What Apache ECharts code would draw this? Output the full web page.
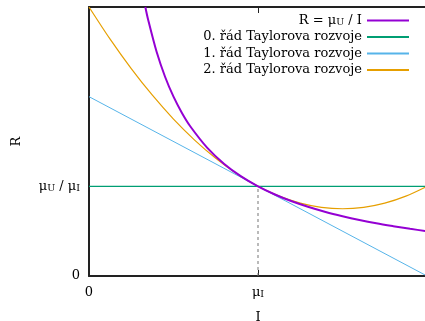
<!DOCTYPE html>
<html>
<head>
<meta charset="utf-8">
<script src="https://cdn.jsdelivr.net/npm/echarts@6/dist/echarts.min.js"></script>
<style>
  body { margin: 0; background: #fff; }
  #chart { width: 425px; height: 321px; }
</style>
</head>
<body>
<div id="chart"></div>
<script>
// R = muU / I (muU = muI = 1 in plot units)
const curveI = [0.3333, 0.35, 0.4, 0.45, 0.5, 0.55, 0.6, 0.7, 0.8, 0.9, 1.0, 1.1, 1.2, 1.3, 1.4, 1.5, 1.6, 1.7, 1.8, 1.9, 2.0];
const curveR = [3.0, 2.857, 2.5, 2.222, 2.0, 1.818, 1.667, 1.429, 1.25, 1.111, 1.0, 0.909, 0.833, 0.769, 0.714, 0.667, 0.625, 0.588, 0.556, 0.526, 0.5];
// 0. rad
const order0I = [0, 2];
const order0R = [1, 1];
// 1. rad
const order1I = [0, 2];
const order1R = [2, 0];
// 2. rad
const order2I = [0, 0.125, 0.25, 0.375, 0.5, 0.625, 0.75, 0.875, 1.0, 1.125, 1.25, 1.375, 1.5, 1.625, 1.75, 1.875, 2.0];
const order2R = [3, 2.641, 2.313, 2.016, 1.75, 1.516, 1.313, 1.141, 1.0, 0.891, 0.813, 0.766, 0.75, 0.766, 0.813, 0.891, 1.0];
// dashed guide at muI
const guideI = [1, 1];
const guideR = [0, 1];

const seriesNames = ['R = μU / I', '0. řád Taylorova rozvoje', '1. řád Taylorova rozvoje', '2. řád Taylorova rozvoje'];
const seriesColors = ['#9400d3', '#009e73', '#56b4e9', '#e69f00'];
const xTickValues = [0, 1];
const xTickLabels = ['0', 'μ{sub|I}'];
const yTickValues = [0, 1];
const yTickLabels = ['0', 'μ{sub|U} / μ{sub|I}'];

const pairs = (xs, ys) => xs.map((x, i) => [x, ys[i]]);

const font = '"DejaVu Serif", "Liberation Serif", serif';
const subStyle = { fontFamily: font, fontSize: 9.5, verticalAlign: 'bottom', padding: [4, 0, 0, 0], lineHeight: 14, color: '#000' };
const mainStyle = { fontFamily: font, fontSize: 13, color: '#000' };

const chart = echarts.init(document.getElementById('chart'));

const lineSeries = (idx, data, width, smooth) => ({
  name: seriesNames[idx],
  type: 'line',
  data: data,
  symbol: 'none',
  smooth: smooth,
  silent: true,
  animation: false,
  lineStyle: { color: seriesColors[idx], width: width },
  itemStyle: { color: seriesColors[idx] }
});

const option = {
  animation: false,
  grid: { left: 89, right: -2, top: 7, bottom: 45, outerBoundsMode: 'none', containLabel: false },
  legend: {
    orient: 'vertical',
    right: 15,
    top: 13.5,
    padding: 0,
    align: 'right',
    itemWidth: 42,
    itemHeight: 14,
    itemGap: 2.5,
    data: seriesNames,
    itemStyle: { opacity: 0 },
    formatter: (name) => name === seriesNames[0] ? 'R = μ{sub|U} / I' : name,
    textStyle: Object.assign({}, mainStyle, { lineHeight: 14, rich: { sub: subStyle } })
  },
  xAxis: [
    {
      type: 'value',
      min: 0,
      max: 2,
      name: 'I',
      nameLocation: 'middle',
      nameGap: 35,
      nameTextStyle: mainStyle,
      splitLine: { show: false },
      axisLine: { show: true, lineStyle: { color: '#222', width: 2 } },
      axisTick: { inside: true, length: 6, customValues: [1], lineStyle: { color: '#222' } },
      axisLabel: {
        customValues: xTickValues,
        margin: 10,
        formatter: (v) => xTickLabels[xTickValues.indexOf(v)] || '',
        fontFamily: font, fontSize: 13, color: '#000',
        rich: { sub: subStyle }
      }
    },
    {
      type: 'value',
      position: 'top',
      min: 0,
      max: 2,
      splitLine: { show: false },
      axisLine: { show: true, lineStyle: { color: '#222', width: 2 } },
      axisTick: { inside: true, length: 6, customValues: [1], lineStyle: { color: '#222' } },
      axisLabel: { show: false }
    }
  ],
  yAxis: {
    type: 'value',
    min: 0,
    max: 3,
    name: 'R',
    nameLocation: 'middle',
    nameGap: 66,
    nameRotate: 90,
    nameTextStyle: mainStyle,
    splitLine: { show: false },
    axisLine: { show: true, lineStyle: { color: '#222', width: 2 } },
    axisTick: { inside: true, length: 6, customValues: yTickValues, lineStyle: { color: '#222' } },
    axisLabel: {
      customValues: yTickValues,
      margin: 9,
      formatter: (v) => yTickLabels[yTickValues.indexOf(v)] || '',
      fontFamily: font, fontSize: 13, color: '#000',
      rich: { sub: subStyle }
    }
  },
  series: [
    {
      type: 'line',
      data: pairs(guideI, guideR),
      symbol: 'none',
      silent: true,
      lineStyle: { color: '#777', width: 1, type: [3, 3] }
    },
    lineSeries(1, pairs(order0I, order0R), 1.2, false),
    lineSeries(2, pairs(order1I, order1R), 1, false),
    lineSeries(3, pairs(order2I, order2R), 1.2, 0.3),
    lineSeries(0, pairs(curveI, curveR), 2, 0.3)
  ]
};

chart.setOption(option);
</script>
</body>
</html>
